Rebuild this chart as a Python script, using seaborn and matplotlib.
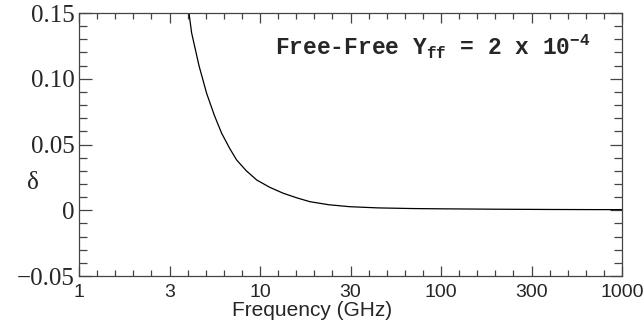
import numpy as np
import pandas as pd
import matplotlib
matplotlib.use("Agg")
import matplotlib.pyplot as plt
from matplotlib.ticker import FixedLocator, NullFormatter
import seaborn as sns

# data
freq_ghz = [4.0, 4.05, 4.19, 4.6, 5.07, 5.6, 6.14, 6.8, 7.43, 8.4, 9.59, 11.3, 13.4, 16.0,
            18.9, 24.0, 31.4, 45.0, 70.0, 100.0, 200.0, 400.0, 700.0, 1000.0]
delta = [0.158, 0.150, 0.1348, 0.110, 0.0889, 0.072, 0.0585, 0.047, 0.0382, 0.030, 0.023,
         0.0175, 0.013, 0.0094, 0.0065, 0.0042, 0.0027, 0.0018, 0.0013, 0.0011, 0.0008,
         0.0006, 0.0005, 0.0005]
x_tick_vals = [1, 10**0.5, 10, 10**1.5, 100, 10**2.5, 1000]
x_tick_labels = ["1", "3", "10", "30", "100", "300", "1000"]
y_tick_vals = [-0.05, 0.0, 0.05, 0.10, 0.15]
y_tick_labels = ["\u22120.05", "0", "0.05", "0.10", "0.15"]

sns.set_style("ticks")
plt.rcParams["font.family"] = ["Liberation Sans", "DejaVu Sans"]
plt.rcParams["mathtext.fontset"] = "custom"
plt.rcParams["mathtext.rm"] = "Liberation Mono:bold"
plt.rcParams["mathtext.default"] = "rm"

df = pd.DataFrame({"f": freq_ghz, "d": delta})

fig = plt.figure(figsize=(6.43, 3.24), dpi=100)
ax = fig.add_axes([0.1229, 0.1481, 0.8445, 0.8117])
sns.lineplot(data=df, x="f", y="d", ax=ax, color="black", linewidth=0.9, sort=False)

ax.set_xscale("log")
ax.set_xlim(1, 1000)
ax.set_ylim(-0.05, 0.15)

ax.xaxis.set_major_locator(FixedLocator(x_tick_vals))
ax.set_xticklabels(x_tick_labels, fontsize=14, family="Liberation Sans")
ax.xaxis.set_minor_locator(FixedLocator([10**(k / 10) for k in range(31)]))
ax.xaxis.set_minor_formatter(NullFormatter())

ax.yaxis.set_major_locator(FixedLocator(y_tick_vals))
ax.set_yticklabels(y_tick_labels, fontsize=18, family="Liberation Serif")
ax.yaxis.set_minor_locator(FixedLocator(list(np.round(np.arange(-0.05, 0.1501, 0.01), 3))))

ax.tick_params(axis="both", which="both", direction="in", top=True, right=True,
               color="#444444", width=0.9)
ax.tick_params(axis="x", which="major", length=7, pad=6)
ax.tick_params(axis="x", which="minor", length=4)
ax.tick_params(axis="y", which="major", length=9, pad=3)
ax.tick_params(axis="y", which="minor", length=5.5)

for s in ax.spines.values():
    s.set_color("#444444")
    s.set_linewidth(0.9)

ax.set_xlabel("Frequency (GHz)", fontsize=15, labelpad=4)
ax.xaxis.set_label_coords(0.43, -0.13)
ax.xaxis.label.set_va("center")
ax.set_ylabel("\u03b4", fontsize=18, family="Liberation Serif", rotation=0, va="center")
ax.yaxis.set_label_coords(-0.085, 0.355)

ax.text(0.36, 0.872, r"Free-Free Y$_{ff}$ = 2 x 10$^{-4}$", transform=ax.transAxes,
        fontsize=16.5, family="Liberation Mono", fontweight="bold", ha="left", va="center")

fig.savefig("out.png", dpi=100)
